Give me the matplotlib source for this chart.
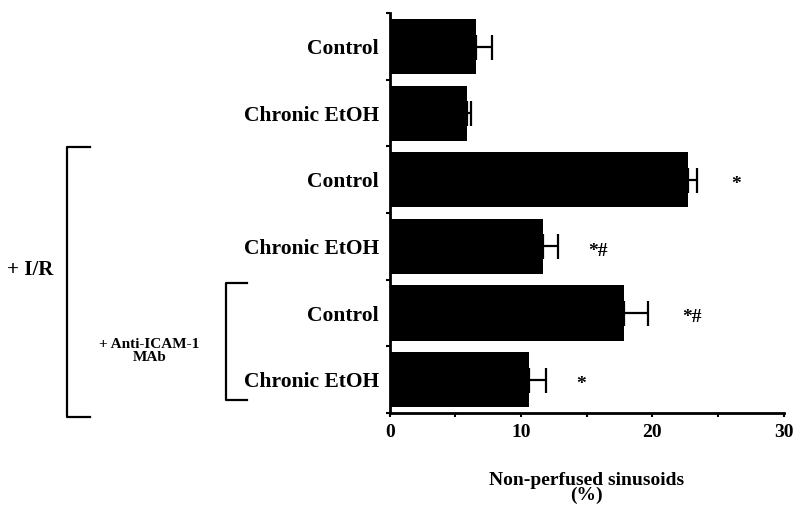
import matplotlib
matplotlib.use("Agg")
import matplotlib.pyplot as plt
import matplotlib.transforms as mtransforms
from matplotlib.lines import Line2D

# data
groups = ["Control", "Chronic EtOH", "Control", "Chronic EtOH", "Control", "Chronic EtOH"]
means = [6.6, 5.9, 22.7, 11.7, 17.8, 10.6]
sems = [1.2, 0.3, 0.7, 1.1, 1.9, 1.3]
marks = ["", "", "*", "*#", "*#", "*"]
mark_x = [0, 0, 26.0, 15.1, 22.3, 14.2]

plt.rcParams["font.family"] = ["Liberation Serif", "DejaVu Serif"]
plt.rcParams["font.weight"] = "bold"

fig = plt.figure(figsize=(7.94, 5.08), dpi=100)
ax = fig.add_axes([0.491, 0.187, 0.496, 0.787])

pos = list(range(len(groups)))
ax.barh(pos, means, height=0.83, color="black", zorder=2)
ax.errorbar(means, pos, xerr=[[0] * len(sems), sems], fmt="none", ecolor="black",
            elinewidth=1.6, capsize=9, capthick=1.6, zorder=1)

for p, m, mx in zip(pos, marks, mark_x):
    if m:
        ax.text(mx, p + 0.07, m, ha="left", va="center", fontsize=14, fontweight="bold")

ax.set_xlim(0, 30)
ax.set_ylim(5.5, -0.5)
ax.set_xticks([0, 10, 20, 30])
ax.set_xticks([5, 15, 25], minor=True)
ax.set_yticks(pos)
ax.set_yticklabels(groups, fontsize=15.5, fontweight="bold")
ax.set_yticks([p + 0.5 for p in range(-1, len(groups))], minor=True)
ax.tick_params(axis="y", which="major", length=0, pad=8)
ax.tick_params(axis="y", which="minor", length=3, width=1.5, direction="out")
ax.tick_params(axis="x", which="both", length=3, width=1.5, direction="out",
               labelsize=14, pad=5)
for lab in ax.get_xticklabels():
    lab.set_fontweight("bold")
for s in ["top", "right"]:
    ax.spines[s].set_visible(False)
ax.spines["left"].set_linewidth(2)
ax.spines["bottom"].set_linewidth(2)

ax.set_xlabel("Non-perfused sinusoids\n(%)", fontsize=14, fontweight="bold",
              labelpad=22, linespacing=0.85)

# group brackets (x in axes fraction, y in data)
tr = mtransforms.blended_transform_factory(ax.transAxes, ax.transData)

def bracket(x0, x1, y0, y1):
    line = Line2D([x1, x0, x0, x1], [y0, y0, y1, y1], transform=tr, color="black",
                  lw=1.6, clip_on=False)
    ax.add_line(line)

bracket(-0.82, -0.762, 1.51, 5.56)
bracket(-0.415, -0.362, 3.55, 5.3)

ax.text(-0.913, 3.35, "+ I/R", transform=tr, ha="center", va="center",
        fontsize=15, fontweight="bold")
ax.text(-0.61, 4.57, "+ Anti-ICAM-1\nMAb", transform=tr, ha="center", va="center",
        fontsize=11, fontweight="bold", linespacing=0.95)

fig.savefig("out.png", dpi=100)
